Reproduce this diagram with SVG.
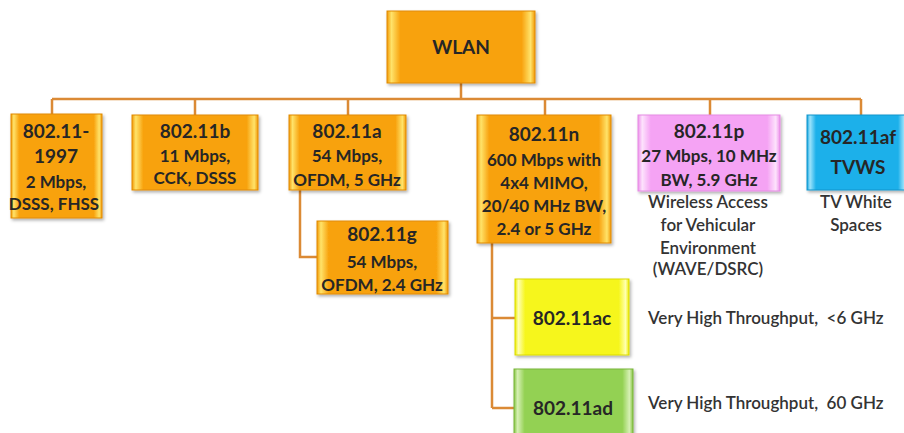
<svg xmlns="http://www.w3.org/2000/svg" width="904" height="433" viewBox="0 0 904 433">
<defs>
<linearGradient id="gO" x1="0" y1="0" x2="1" y2="0">
<stop offset="0" stop-color="#F29A06"/><stop offset="0.03" stop-color="#FFE36A"/><stop offset="0.09" stop-color="#F8A20E"/><stop offset="0.91" stop-color="#F8A20E"/><stop offset="0.97" stop-color="#FFE36A"/><stop offset="1" stop-color="#F29A06"/>
</linearGradient>
<linearGradient id="gP" x1="0" y1="0" x2="1" y2="0">
<stop offset="0" stop-color="#EE92EC"/><stop offset="0.03" stop-color="#FDE3FC"/><stop offset="0.09" stop-color="#F5A3F4"/><stop offset="0.91" stop-color="#F5A3F4"/><stop offset="0.97" stop-color="#FDE3FC"/><stop offset="1" stop-color="#EE92EC"/>
</linearGradient>
<linearGradient id="gB" x1="0" y1="0" x2="1" y2="0">
<stop offset="0" stop-color="#12A4E0"/><stop offset="0.03" stop-color="#9DE3FB"/><stop offset="0.09" stop-color="#1CB0EA"/><stop offset="0.91" stop-color="#1CB0EA"/><stop offset="0.97" stop-color="#9DE3FB"/><stop offset="1" stop-color="#12A4E0"/>
</linearGradient>
<linearGradient id="gY" x1="0" y1="0" x2="1" y2="0">
<stop offset="0" stop-color="#EDED00"/><stop offset="0.03" stop-color="#FFFFB0"/><stop offset="0.09" stop-color="#F6F61C"/><stop offset="0.91" stop-color="#F6F61C"/><stop offset="0.97" stop-color="#FFFFB0"/><stop offset="1" stop-color="#EDED00"/>
</linearGradient>
<linearGradient id="gG" x1="0" y1="0" x2="1" y2="0">
<stop offset="0" stop-color="#86C443"/><stop offset="0.03" stop-color="#D6F0B4"/><stop offset="0.09" stop-color="#93D152"/><stop offset="0.91" stop-color="#93D152"/><stop offset="0.97" stop-color="#D6F0B4"/><stop offset="1" stop-color="#86C443"/>
</linearGradient>
<filter id="sh" x="-10%" y="-10%" width="125%" height="130%">
<feDropShadow dx="1.5" dy="2" stdDeviation="1.5" flood-color="#000" flood-opacity="0.3"/>
</filter>
<style>
.box{filter:url(#sh);stroke-width:1}
.o{fill:url(#gO);stroke:#E08A00}
.p{fill:url(#gP);stroke:#E58BE3}
.b{fill:url(#gB);stroke:#0E95CC}
.y{fill:url(#gY);stroke:#DADA00}
.g{fill:url(#gG);stroke:#78B53A}
text{font-family:Lato,"Open Sans","Liberation Sans",sans-serif;font-weight:700;font-size:17px;fill:#262626;text-anchor:middle;white-space:pre}
.t{font-size:19px}
.plain{fill:#333;font-weight:600}
.lft{text-anchor:start}
.conn{fill:none;stroke:#DB8A35;stroke-width:2.5}
</style>
</defs>
<g id="connectors">
<path class="conn" d="M461 83V99M52 99H861M52 99V115M195 99V115M348 99V115M545 99V115M710 99V115M861 99V115"/>
<path class="conn" d="M300 190V257H317"/>
<path class="conn" d="M492 243V408M492 318H515M492 408H514"/>
</g>
<g id="wlan">
<rect class="box o" x="387" y="11" width="148" height="72"/>
<text class="t" x="461" y="54">WLAN</text>
</g>
<g id="n1997">
<rect class="box o" x="11" y="114" width="91" height="104"/>
<text class="t" x="56" y="138">802.11-</text>
<text class="t" x="56" y="163">1997</text>
<text x="56" y="188">2 Mbps,</text>
<text x="54" y="210">DSSS, FHSS</text>
</g>
<g id="n11b">
<rect class="box o" x="132" y="115" width="126" height="75"/>
<text class="t" x="195" y="138">802.11b</text>
<text x="195" y="162">11 Mbps,</text>
<text x="195" y="184">CCK, DSSS</text>
</g>
<g id="n11a">
<rect class="box o" x="289" y="115" width="117" height="75"/>
<text class="t" x="347" y="138">802.11a</text>
<text x="347" y="162">54 Mbps,</text>
<text x="347" y="186">OFDM, 5 GHz</text>
</g>
<g id="n11g">
<rect class="box o" x="317" y="221" width="131" height="73"/>
<text class="t" x="382" y="241">802.11g</text>
<text x="382" y="268">54 Mbps,</text>
<text x="382" y="291">OFDM, 2.4 GHz</text>
</g>
<g id="n11n">
<rect class="box o" x="477" y="115" width="134" height="128"/>
<text class="t" x="544" y="141">802.11n</text>
<text x="544" y="166">600 Mbps with</text>
<text x="544" y="189">4x4 MIMO,</text>
<text x="544" y="212">20/40 MHz BW,</text>
<text x="544" y="235">2.4 or 5 GHz</text>
</g>
<g id="n11p">
<rect class="box p" x="638" y="115" width="142" height="76"/>
<text class="t" x="709" y="138">802.11p</text>
<text x="709" y="162">27 Mbps, 10 MHz</text>
<text x="709" y="186">BW, 5.9 GHz</text>
<text class="plain" x="708" y="208">Wireless Access</text>
<text class="plain" x="708" y="231">for Vehicular</text>
<text class="plain" x="708" y="254">Environment</text>
<text class="plain" x="708" y="275">(WAVE/DSRC)</text>
</g>
<g id="n11af">
<rect class="box b" x="807" y="115" width="100" height="75"/>
<text class="t" x="858" y="144">802.11af</text>
<text class="t" x="858" y="174">TVWS</text>
<text class="plain" x="856" y="208">TV White</text>
<text class="plain" x="856" y="231">Spaces</text>
</g>
<g id="n11ac">
<rect class="box y" x="515" y="279" width="114" height="76"/>
<text class="t" x="572" y="325">802.11ac</text>
<text class="plain lft" x="648" y="324">Very High Throughput,  &lt;6 GHz</text>
</g>
<g id="n11ad">
<rect class="box g" x="514" y="369" width="119" height="72"/>
<text class="t" x="573" y="415">802.11ad</text>
<text class="plain lft" x="648" y="409">Very High Throughput,  60 GHz</text>
</g>
</svg>
